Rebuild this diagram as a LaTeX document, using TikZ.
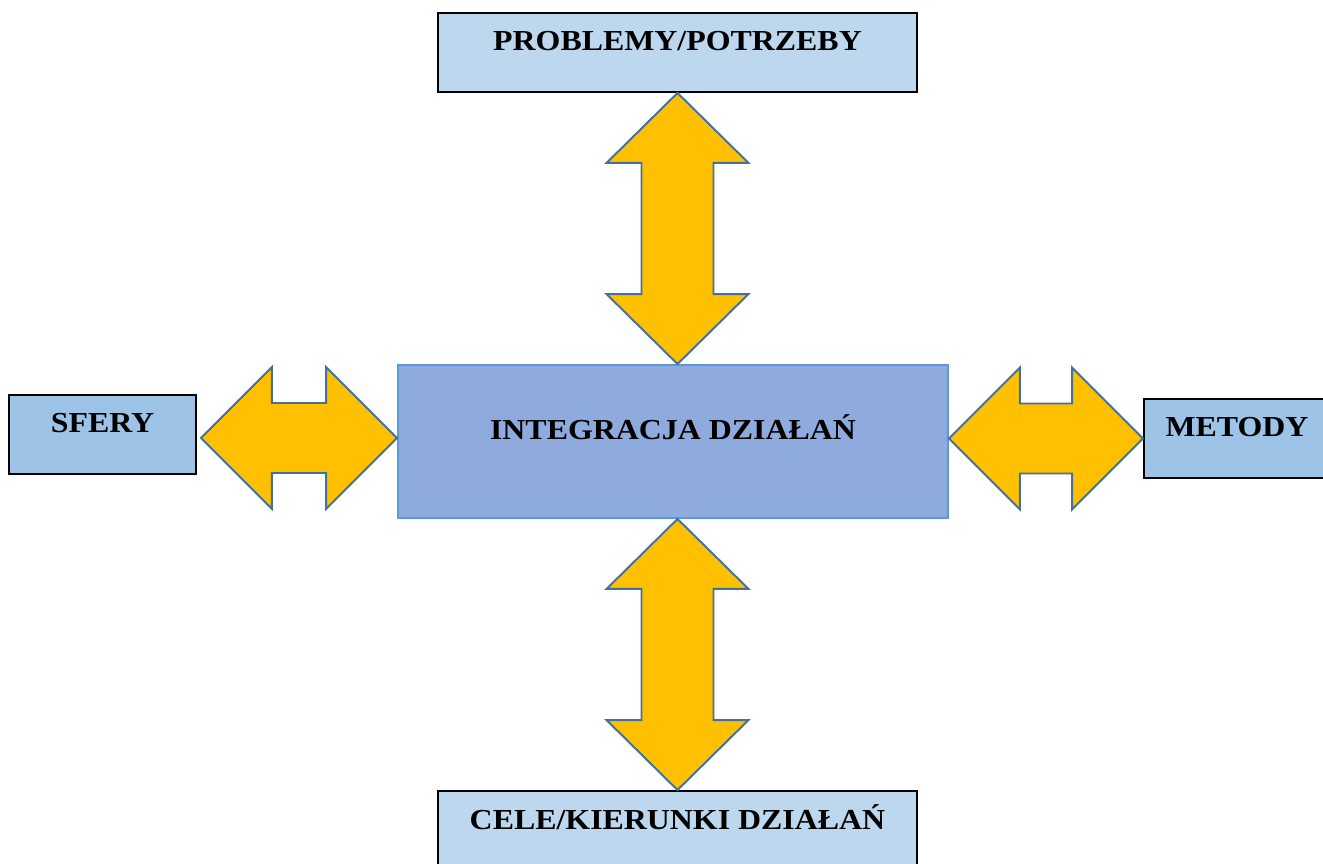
\documentclass[tikz,border=0pt]{standalone}
\usepackage{fontspec}
\setmainfont{Liberation Serif}[FakeStretch=1.1]
\usetikzlibrary{calc}

\definecolor{paleblue}{HTML}{BDD7EE}
\definecolor{sideblue}{HTML}{9DC3E6}
\definecolor{midblue}{HTML}{8FAADC}
\definecolor{midline}{HTML}{5B9BD5}
\definecolor{arrowfill}{HTML}{FFC000}
\definecolor{arrowline}{HTML}{41719C}

\tikzset{
  box/.style={draw=black, line width=1.1pt, inner sep=0pt, align=center,
    font=\fontsize{16.5}{20}\selectfont\bfseries,
    text height=0.76cm, text depth=0.82cm},
  % vertical double arrow, tip to tip
  bigv/.style={draw=arrowline, fill=arrowfill, line width=1.1pt,
    to path={-- ($(\tikztostart)+(71,70)$) -- ($(\tikztostart)+(36,70)$)
      -- ($(\tikztotarget)+(36,-70)$) -- ($(\tikztotarget)+(71,-70)$)
      -- (\tikztotarget)
      -- ($(\tikztotarget)+(-71,-70)$) -- ($(\tikztotarget)+(-36,-70)$)
      -- ($(\tikztostart)+(-36,70)$) -- ($(\tikztostart)+(-71,70)$) -- cycle}},
  % horizontal double arrow, tip to tip
  bigh/.style={draw=arrowline, fill=arrowfill, line width=1.1pt,
    to path={-- ($(\tikztostart)+(71,-71)$) -- ($(\tikztostart)+(71,-35)$)
      -- ($(\tikztotarget)+(-71,-35)$) -- ($(\tikztotarget)+(-71,-71)$)
      -- (\tikztotarget)
      -- ($(\tikztotarget)+(-71,71)$) -- ($(\tikztotarget)+(-71,35)$)
      -- ($(\tikztostart)+(71,35)$) -- ($(\tikztostart)+(71,71)$) -- cycle}}
}

\begin{document}
\begin{tikzpicture}[x=0.02cm, y=-0.02cm]
  \useasboundingbox (0,0) rectangle (1323,864);
  \clip (0,0) rectangle (1323,864);

  % boxes
  \node[box, fill=midblue, draw=midline, minimum width=11cm,
    text height=1.5cm, text depth=1.56cm] (integ) at (673,441.5) {INTEGRACJA DZIAŁAŃ};
  \node[box, fill=paleblue, minimum width=9.58cm] (prob) at (677.5,52.5) {PROBLEMY/POTRZEBY};
  \node[box, fill=paleblue, minimum width=9.58cm] (cele) at (677.5,830.5) {CELE/KIERUNKI DZIAŁAŃ};
  \node[box, fill=sideblue, minimum width=3.74cm] (sfery) at (102.5,434.5) {SFERY};
  \node[box, fill=sideblue, minimum width=3.72cm] (metody) at (1237,438.5) {METODY};

  % arrow ends
  \coordinate (sferyend) at ([shift={(4,3.5)}]sfery.east);
  \coordinate (itop) at (prob.south |- integ.north);
  \coordinate (ibot) at (cele.north |- integ.south);
  \coordinate (ileft) at (sferyend -| integ.west);
  \coordinate (iright) at (metody.west -| integ.east);

  % double arrows
  \draw[bigv] (prob.south) to (itop);
  \draw[bigv] (ibot) to (cele.north);
  \draw[bigh] (sferyend) to (ileft);
  \draw[bigh] (iright) to (metody.west);
\end{tikzpicture}
\end{document}
